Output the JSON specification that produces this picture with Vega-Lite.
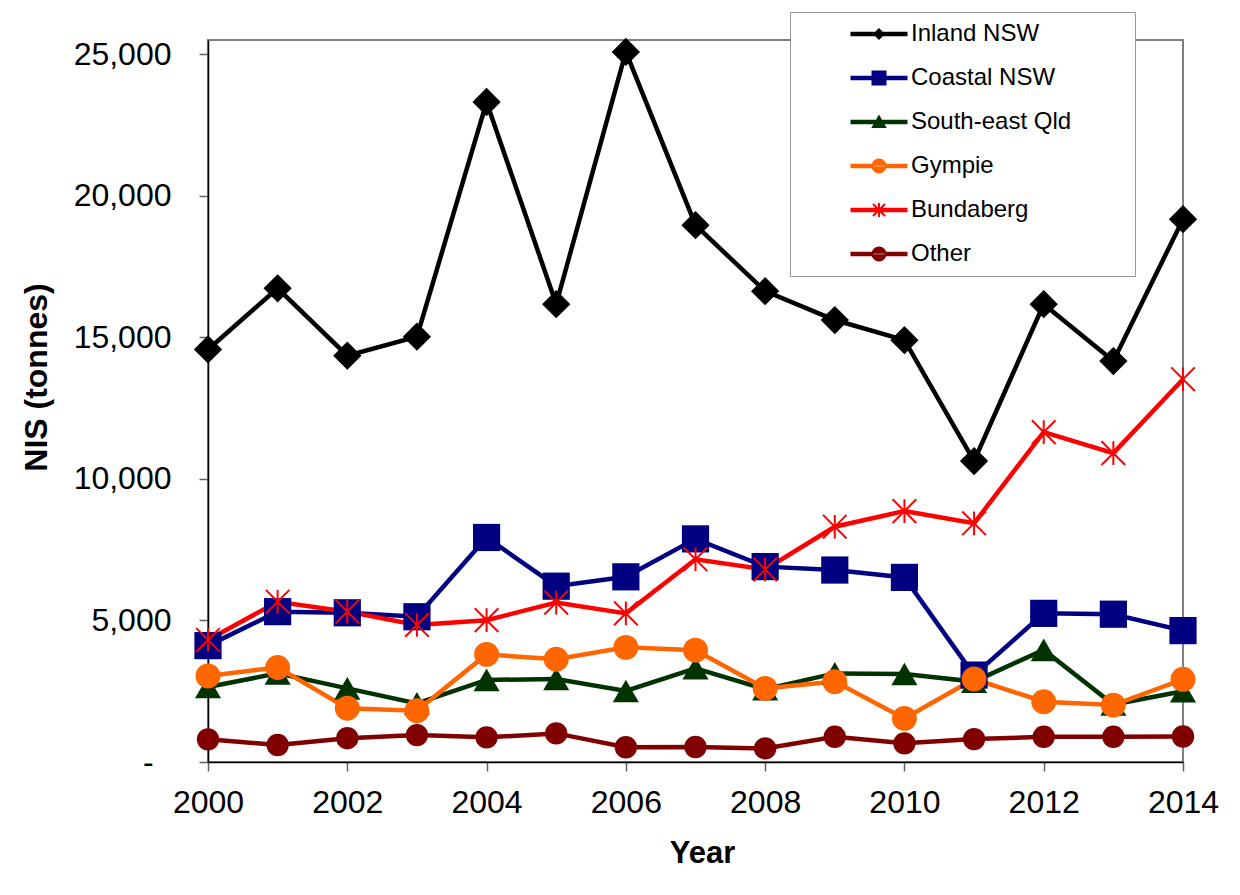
{
  "$schema": "https://vega.github.io/schema/vega-lite/v6.json",
  "width": 975,
  "height": 722,
  "autosize": {"type": "none"},
  "padding": {"left": 208, "top": 40, "right": 57, "bottom": 133},
  "background": "white",
  "data": {
    "values": [
      {"series": "Inland NSW", "year": 2000, "nis": 14570},
      {"series": "Inland NSW", "year": 2001, "nis": 16730},
      {"series": "Inland NSW", "year": 2002, "nis": 14350},
      {"series": "Inland NSW", "year": 2003, "nis": 15020},
      {"series": "Inland NSW", "year": 2004, "nis": 23310},
      {"series": "Inland NSW", "year": 2005, "nis": 16170},
      {"series": "Inland NSW", "year": 2006, "nis": 25080},
      {"series": "Inland NSW", "year": 2007, "nis": 18960},
      {"series": "Inland NSW", "year": 2008, "nis": 16630},
      {"series": "Inland NSW", "year": 2009, "nis": 15610},
      {"series": "Inland NSW", "year": 2010, "nis": 14900},
      {"series": "Inland NSW", "year": 2011, "nis": 10630},
      {"series": "Inland NSW", "year": 2012, "nis": 16170},
      {"series": "Inland NSW", "year": 2013, "nis": 14160},
      {"series": "Inland NSW", "year": 2014, "nis": 19170},
      {"series": "Coastal NSW", "year": 2000, "nis": 4110},
      {"series": "Coastal NSW", "year": 2001, "nis": 5310},
      {"series": "Coastal NSW", "year": 2002, "nis": 5270},
      {"series": "Coastal NSW", "year": 2003, "nis": 5130},
      {"series": "Coastal NSW", "year": 2004, "nis": 7930},
      {"series": "Coastal NSW", "year": 2005, "nis": 6210},
      {"series": "Coastal NSW", "year": 2006, "nis": 6540},
      {"series": "Coastal NSW", "year": 2007, "nis": 7880},
      {"series": "Coastal NSW", "year": 2008, "nis": 6900},
      {"series": "Coastal NSW", "year": 2009, "nis": 6780},
      {"series": "Coastal NSW", "year": 2010, "nis": 6520},
      {"series": "Coastal NSW", "year": 2011, "nis": 3070},
      {"series": "Coastal NSW", "year": 2012, "nis": 5250},
      {"series": "Coastal NSW", "year": 2013, "nis": 5220},
      {"series": "Coastal NSW", "year": 2014, "nis": 4640},
      {"series": "South-east Qld", "year": 2000, "nis": 2650},
      {"series": "South-east Qld", "year": 2001, "nis": 3130},
      {"series": "South-east Qld", "year": 2002, "nis": 2600},
      {"series": "South-east Qld", "year": 2003, "nis": 2070},
      {"series": "South-east Qld", "year": 2004, "nis": 2900},
      {"series": "South-east Qld", "year": 2005, "nis": 2930},
      {"series": "South-east Qld", "year": 2006, "nis": 2510},
      {"series": "South-east Qld", "year": 2007, "nis": 3310},
      {"series": "South-east Qld", "year": 2008, "nis": 2570},
      {"series": "South-east Qld", "year": 2009, "nis": 3130},
      {"series": "South-east Qld", "year": 2010, "nis": 3110},
      {"series": "South-east Qld", "year": 2011, "nis": 2840},
      {"series": "South-east Qld", "year": 2012, "nis": 3960},
      {"series": "South-east Qld", "year": 2013, "nis": 2030},
      {"series": "South-east Qld", "year": 2014, "nis": 2500},
      {"series": "Gympie", "year": 2000, "nis": 3040},
      {"series": "Gympie", "year": 2001, "nis": 3340},
      {"series": "Gympie", "year": 2002, "nis": 1900},
      {"series": "Gympie", "year": 2003, "nis": 1810},
      {"series": "Gympie", "year": 2004, "nis": 3800},
      {"series": "Gympie", "year": 2005, "nis": 3630},
      {"series": "Gympie", "year": 2006, "nis": 4050},
      {"series": "Gympie", "year": 2007, "nis": 3950},
      {"series": "Gympie", "year": 2008, "nis": 2600},
      {"series": "Gympie", "year": 2009, "nis": 2840},
      {"series": "Gympie", "year": 2010, "nis": 1540},
      {"series": "Gympie", "year": 2011, "nis": 2930},
      {"series": "Gympie", "year": 2012, "nis": 2130},
      {"series": "Gympie", "year": 2013, "nis": 2010},
      {"series": "Gympie", "year": 2014, "nis": 2920},
      {"series": "Bundaberg", "year": 2000, "nis": 4310},
      {"series": "Bundaberg", "year": 2001, "nis": 5660},
      {"series": "Bundaberg", "year": 2002, "nis": 5310},
      {"series": "Bundaberg", "year": 2003, "nis": 4840},
      {"series": "Bundaberg", "year": 2004, "nis": 5010},
      {"series": "Bundaberg", "year": 2005, "nis": 5630},
      {"series": "Bundaberg", "year": 2006, "nis": 5250},
      {"series": "Bundaberg", "year": 2007, "nis": 7160},
      {"series": "Bundaberg", "year": 2008, "nis": 6800},
      {"series": "Bundaberg", "year": 2009, "nis": 8310},
      {"series": "Bundaberg", "year": 2010, "nis": 8860},
      {"series": "Bundaberg", "year": 2011, "nis": 8430},
      {"series": "Bundaberg", "year": 2012, "nis": 11650},
      {"series": "Bundaberg", "year": 2013, "nis": 10910},
      {"series": "Bundaberg", "year": 2014, "nis": 13520},
      {"series": "Other", "year": 2000, "nis": 800},
      {"series": "Other", "year": 2001, "nis": 600},
      {"series": "Other", "year": 2002, "nis": 840},
      {"series": "Other", "year": 2003, "nis": 950},
      {"series": "Other", "year": 2004, "nis": 870},
      {"series": "Other", "year": 2005, "nis": 1010},
      {"series": "Other", "year": 2006, "nis": 520},
      {"series": "Other", "year": 2007, "nis": 530},
      {"series": "Other", "year": 2008, "nis": 480},
      {"series": "Other", "year": 2009, "nis": 890},
      {"series": "Other", "year": 2010, "nis": 660},
      {"series": "Other", "year": 2011, "nis": 810},
      {"series": "Other", "year": 2012, "nis": 890},
      {"series": "Other", "year": 2013, "nis": 890},
      {"series": "Other", "year": 2014, "nis": 900}
    ]
  },
  "config": {
    "font": "Liberation Sans",
    "view": {"stroke": "#808080", "strokeWidth": 2},
    "axis": {
      "grid": false,
      "labelFont": "Liberation Sans",
      "labelFontSize": 32,
      "labelColor": "black",
      "labelFlush": false,
      "labelOverlap": false,
      "titleFont": "Liberation Sans",
      "titleFontSize": 31,
      "titleFontWeight": "bold",
      "titleColor": "black",
      "domainColor": "black",
      "domainWidth": 1.5,
      "tickColor": "#606060",
      "tickWidth": 1.5,
      "tickSize": 9
    },
    "legend": {
      "labelFont": "Liberation Sans",
      "labelFontSize": 24,
      "labelColor": "black",
      "labelLimit": 500,
      "padding": 10,
      "fillColor": "white",
      "strokeColor": "#999999",
      "symbolSize": 4,
      "symbolStrokeWidth": 2,
      "symbolOpacity": 1,
      "symbolOffset": 67,
      "labelOffset": 20,
      "rowPadding": 20
    }
  },
  "encoding": {
    "x": {
      "field": "year",
      "type": "quantitative",
      "scale": {"domain": [2000, 2014], "nice": false, "zero": false},
      "axis": {
        "values": [2000, 2002, 2004, 2006, 2008, 2010, 2012, 2014],
        "format": "d",
        "labelPadding": 16,
        "title": "Year",
        "titleX": 494,
        "titleY": 100,
        "titleBaseline": "alphabetic"
      }
    },
    "y": {
      "field": "nis",
      "type": "quantitative",
      "scale": {"domain": [0, 25500], "nice": false},
      "axis": {
        "values": [0, 5000, 10000, 15000, 20000, 25000],
        "labelExpr": "datum.value === 0 ? '-\u00a0\u00a0\u200b' : format(datum.value, ',')",
        "labelPadding": 28,
        "title": "NIS (tonnes)",
        "titleFontSize": 32,
        "titleAngle": -90,
        "titleX": -172,
        "titleY": 337,
        "titleAlign": "center",
        "titleBaseline": "middle"
      }
    }
  },
  "layer": [
    {
      "mark": {"type": "point", "filled": true, "opacity": 0},
      "encoding": {
        "shape": {
          "field": "series",
          "type": "nominal",
          "scale": {
            "domain": ["Inland NSW", "Coastal NSW", "South-east Qld", "Gympie", "Bundaberg", "Other"],
            "range": [
              "M-27.5,-1.25H27.5V1.25H-27.5ZM-4.6,0L0,-4.6L4.6,0L0,4.6Z",
              "M-27.5,-1.25H27.5V1.25H-27.5ZM-6.5,-6.5H6.5V6.5H-6.5Z",
              "M-27.5,-1.25H27.5V1.25H-27.5ZM0,-5.5L6,5L-6,5Z",
              "M-27.5,-1.25H27.5V1.25H-27.5ZM-6.5,0A6.5,6.5 0 1,0 6.5,0A6.5,6.5 0 1,0 -6.5,0Z",
              "M-27.5,-1.25H27.5V1.25H-27.5ZM-6,-6L6,6M-6,6L6,-6M0,-7V7",
              "M-27.5,-1.25H27.5V1.25H-27.5ZM-6.5,0A6.5,6.5 0 1,0 6.5,0A6.5,6.5 0 1,0 -6.5,0Z"
            ]
          },
          "legend": {
            "title": null,
            "orient": "none",
            "legendX": 582,
            "legendY": -28,
            "labelExpr": "datum.label + '\u00a0\u00a0\u00a0\u00a0\u00a0\u00a0\u00a0\u00a0\u200b'"
          }
        },
        "fill": {
          "field": "series",
          "type": "nominal",
          "scale": {
            "domain": ["Inland NSW", "Coastal NSW", "South-east Qld", "Gympie", "Bundaberg", "Other"],
            "range": ["#000000", "#000080", "#003300", "#FF6600", "#FF0000", "#800000"]
          },
          "legend": {
            "title": null,
            "orient": "none",
            "legendX": 582,
            "legendY": -28,
            "labelExpr": "datum.label + '\u00a0\u00a0\u00a0\u00a0\u00a0\u00a0\u00a0\u00a0\u200b'"
          }
        },
        "stroke": {
          "field": "series",
          "type": "nominal",
          "scale": {
            "domain": ["Inland NSW", "Coastal NSW", "South-east Qld", "Gympie", "Bundaberg", "Other"],
            "range": ["#000000", "#000080", "#003300", "#FF6600", "#FF0000", "#800000"]
          },
          "legend": {
            "title": null,
            "orient": "none",
            "legendX": 582,
            "legendY": -28,
            "labelExpr": "datum.label + '\u00a0\u00a0\u00a0\u00a0\u00a0\u00a0\u00a0\u00a0\u200b'"
          }
        }
      }
    },
    {
      "mark": {"type": "line"},
      "encoding": {
        "color": {
          "field": "series",
          "type": "nominal",
          "scale": {
            "domain": ["Inland NSW", "Coastal NSW", "South-east Qld", "Gympie", "Bundaberg", "Other"],
            "range": ["#000000", "#000080", "#003300", "#FF6600", "#FF0000", "#800000"]
          },
          "legend": null
        },
        "strokeWidth": {
          "field": "series",
          "type": "nominal",
          "scale": {
            "domain": ["Inland NSW", "Coastal NSW", "South-east Qld", "Gympie", "Bundaberg", "Other"],
            "range": [4.5, 4.5, 4.5, 4.5, 5, 4.5]
          },
          "legend": null
        }
      }
    },
    {
      "mark": {"type": "point", "filled": true, "opacity": 1, "strokeWidth": 2},
      "encoding": {
        "shape": {
          "field": "series",
          "type": "nominal",
          "scale": {
            "domain": ["Inland NSW", "Coastal NSW", "South-east Qld", "Gympie", "Bundaberg", "Other"],
            "range": ["diamond", "square", "triangle-up", "circle", "M-1,-1L1,1M-1,1L1,-1M0,-1V1", "circle"]
          },
          "legend": null
        },
        "size": {
          "field": "series",
          "type": "nominal",
          "scale": {
            "domain": ["Inland NSW", "Coastal NSW", "South-east Qld", "Gympie", "Bundaberg", "Other"],
            "range": [800, 500, 529, 484, 576, 529]
          },
          "legend": null
        },
        "fill": {
          "field": "series",
          "type": "nominal",
          "scale": {
            "domain": ["Inland NSW", "Coastal NSW", "South-east Qld", "Gympie", "Bundaberg", "Other"],
            "range": ["#000000", "#000080", "#003300", "#FF6600", "transparent", "#800000"]
          },
          "legend": null
        },
        "stroke": {
          "field": "series",
          "type": "nominal",
          "scale": {
            "domain": ["Inland NSW", "Coastal NSW", "South-east Qld", "Gympie", "Bundaberg", "Other"],
            "range": ["transparent", "transparent", "transparent", "transparent", "#FF0000", "transparent"]
          },
          "legend": null
        }
      }
    }
  ],
  "resolve": {
    "scale": {
      "shape": "independent",
      "fill": "independent",
      "stroke": "independent",
      "size": "independent",
      "color": "independent",
      "strokeWidth": "independent"
    }
  }
}
